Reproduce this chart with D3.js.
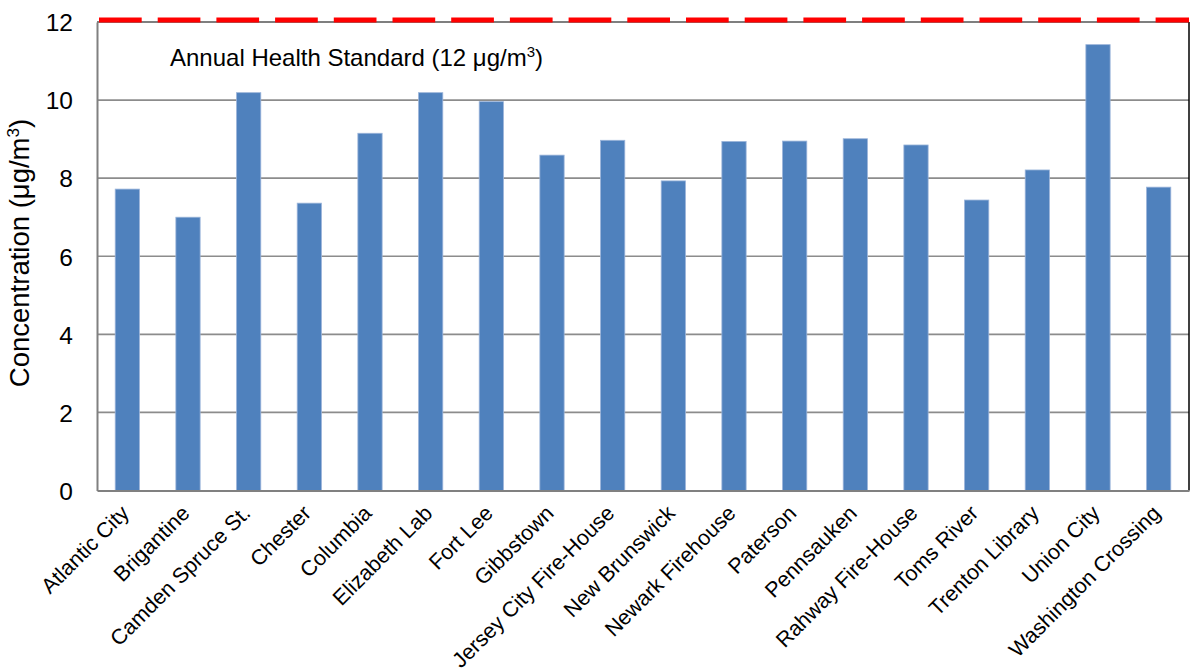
<!DOCTYPE html>
<html>
<head>
<meta charset="utf-8">
<script src="https://cdn.jsdelivr.net/npm/d3@7"></script>
<style>
  html, body { margin: 0; padding: 0; background: #fff; }
  svg { display: block; font-family: "Liberation Sans", Arial, sans-serif; }
</style>
</head>
<body>
<svg id="chart" width="1191" height="669"></svg>
<script>
// Monitoring sites (PM2.5 annual mean)
const sites = [
  "Atlantic City", "Brigantine", "Camden Spruce St.", "Chester", "Columbia",
  "Elizabeth Lab", "Fort Lee", "Gibbstown", "Jersey City Fire-House",
  "New Brunswick", "Newark Firehouse", "Paterson", "Pennsauken",
  "Rahway Fire-House", "Toms River", "Trenton Library", "Union City",
  "Washington Crossing"
];
const concentrations = [
  7.72, 7.00, 10.19, 7.36, 9.15,
  10.19, 9.96, 8.59, 8.97,
  7.93, 8.94, 8.95, 9.01,
  8.85, 7.44, 8.21, 11.42,
  7.77
];
const yTicks = [0, 2, 4, 6, 8, 10, 12];
const standardValue = 12;
const standardLabel = "Annual Health Standard (12 μg/m";

const svg = d3.select("#chart");
const plotLeft = 97, plotRight = 1189, plotTop = 22, plotBottom = 490.5;

const x = d3.scaleBand().domain(sites).range([plotLeft, plotRight])
  .paddingInner(0.6).paddingOuter(0.3);
const y = d3.scaleLinear().domain([0, 12]).range([plotBottom, plotTop]);

// horizontal gridlines
svg.append("g").selectAll("line")
  .data(yTicks.filter(t => t > 0 && t < 12))
  .join("line")
  .attr("x1", plotLeft).attr("x2", plotRight)
  .attr("y1", d => y(d)).attr("y2", d => y(d))
  .attr("stroke", "#8c8c8c").attr("stroke-width", 1.6);

// bars
svg.append("g").selectAll("rect")
  .data(concentrations)
  .join("rect")
  .attr("x", (d, i) => x(sites[i]))
  .attr("width", x.bandwidth())
  .attr("y", d => y(d))
  .attr("height", d => y(0) - y(d))
  .attr("fill", "#4f81bd")
  .attr("stroke", "#9bb5da").attr("stroke-width", 0.8);

// frame: top and right edges
svg.append("line").attr("x1", plotLeft).attr("x2", plotRight)
  .attr("y1", y(12)).attr("y2", y(12))
  .attr("stroke", "#000").attr("stroke-width", 1.2);
svg.append("line").attr("x1", plotRight).attr("x2", plotRight)
  .attr("y1", y(12)).attr("y2", plotBottom)
  .attr("stroke", "#000").attr("stroke-width", 1.5);

// left and bottom axes
const yAxis = d3.axisLeft(y).tickValues(yTicks).tickSize(0).tickPadding(0);
const gy = svg.append("g").attr("transform", `translate(${plotLeft},0)`).call(yAxis);
gy.select(".domain").attr("stroke", "#808080").attr("stroke-width", 2);
gy.selectAll("text")
  .attr("x", -24).attr("dy", "0.36em")
  .attr("font-size", 24.5).attr("fill", "#000")
  .attr("font-family", "Liberation Sans, Arial, sans-serif");

const xAxis = d3.axisBottom(x).tickSize(0).tickPadding(0);
const gx = svg.append("g").attr("transform", `translate(0,${plotBottom})`).call(xAxis);
gx.select(".domain").attr("stroke", "#808080").attr("stroke-width", 2.2);
gx.selectAll("text")
  .attr("font-size", 21.5).attr("fill", "#000")
  .attr("font-family", "Liberation Sans, Arial, sans-serif")
  .attr("text-anchor", "end")
  .attr("dy", null).attr("y", 0)
  .attr("transform", "translate(3,24) rotate(-45)");

// annual standard dashed line
svg.append("line")
  .attr("x1", plotLeft + 2).attr("x2", plotRight)
  .attr("y1", y(standardValue) - 2).attr("y2", y(standardValue) - 2)
  .attr("stroke", "#ff0000").attr("stroke-width", 5)
  .attr("stroke-dasharray", "42.7,16");

// standard label with superscript
const lbl = svg.append("text")
  .attr("x", 170).attr("y", 66)
  .attr("font-size", 24).attr("fill", "#000");
lbl.append("tspan").text(standardLabel);
lbl.append("tspan").attr("dy", -9).attr("font-size", 15).text("3");
lbl.append("tspan").attr("dy", 9).text(")");

// y-axis title
const yt = svg.append("text")
  .attr("transform", "translate(29,253) rotate(-90)")
  .attr("text-anchor", "middle")
  .attr("font-size", 27.5).attr("fill", "#000");
yt.append("tspan").text("Concentration (μg/m");
yt.append("tspan").attr("dy", -10).attr("font-size", 17).text("3");
yt.append("tspan").attr("dy", 10).text(")");
</script>
</body>
</html>
